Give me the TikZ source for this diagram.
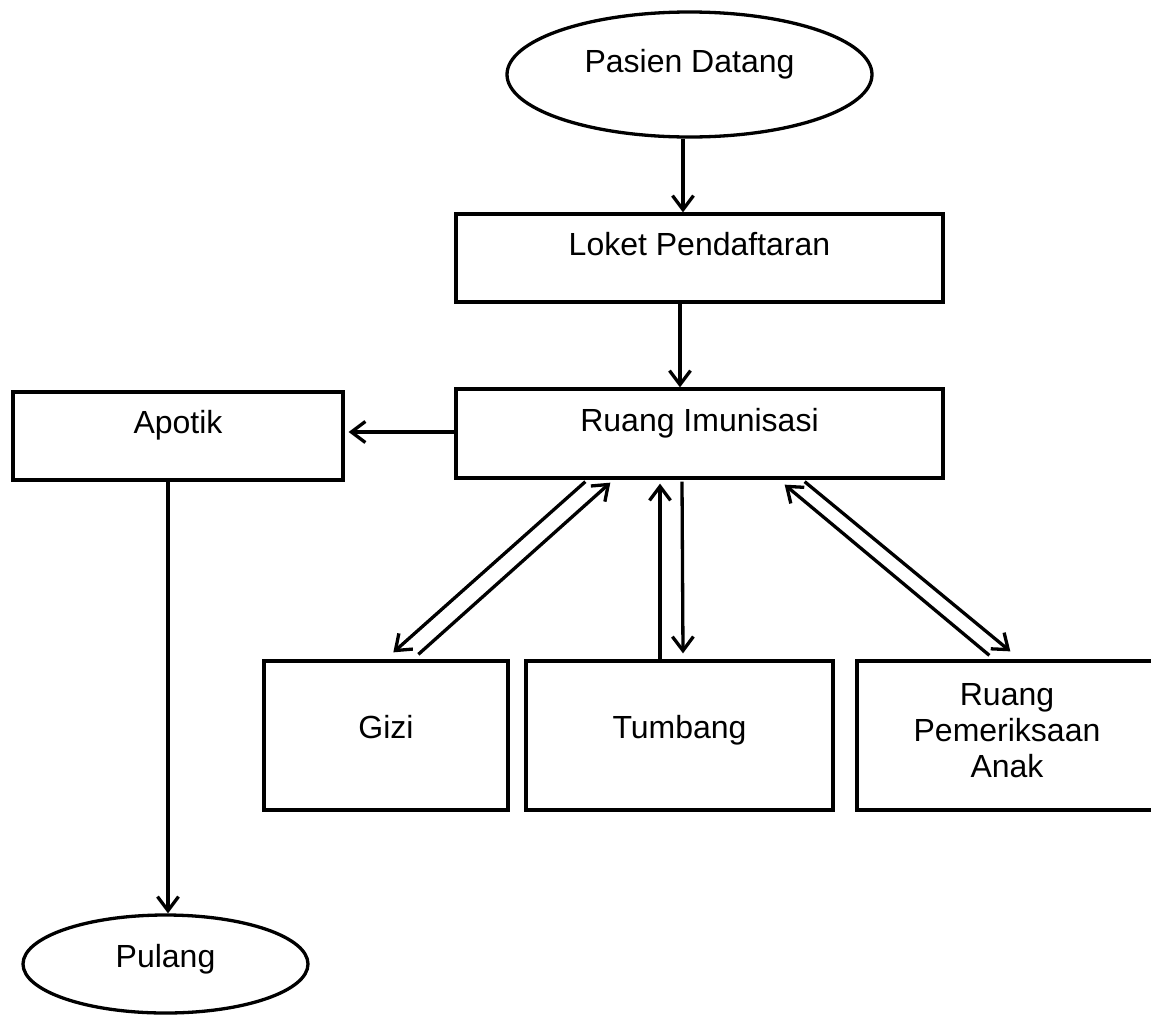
\documentclass[tikz,border=0pt]{standalone}
\usepackage{fontspec}
\setmainfont{Liberation Sans}
\usetikzlibrary{arrows.meta,shapes.geometric}
\newcommand{\rtxt}[2]{\raisebox{#1pt}[0pt][0pt]{#2}}
\tikzset{
  base/.style={draw=black, line width=3.3pt, inner sep=0pt, text height=0pt, text depth=0pt,
    font=\fontsize{32}{36}\selectfont},
  boxnode/.style={base, rectangle},
  ovalnode/.style={base, ellipse},
  conn/.style={line width=3.3pt, -{Straight Barb[length=14pt,width=21pt,line width=3.3pt]}},
}
\begin{document}
\begin{tikzpicture}[x=1pt,y=-1pt]
\clip (0,0) rectangle (1151,1015);
\fill[white] (0,0) rectangle (1151,1015);

\node[ovalnode, minimum width=365pt, minimum height=125pt] (pasien) at (689.5,74.5) {\rtxt{2.5}{Pasien Datang}};
\node[boxnode, minimum width=487pt, minimum height=88pt] (loket) at (699.5,258) {\rtxt{3}{Loket Pendaftaran}};
\node[boxnode, minimum width=487pt, minimum height=89pt] (imun) at (699.5,433.5) {\rtxt{2}{Ruang Imunisasi}};
\node[boxnode, minimum width=330pt, minimum height=88pt] (apotik) at (178,436) {\rtxt{3}{Apotik}};
\node[boxnode, minimum width=244pt, minimum height=149pt] (gizi) at (386,735.5) {\rtxt{-2.5}{Gizi}};
\node[boxnode, minimum width=307pt, minimum height=149pt] (tumbang) at (679.5,735.5) {\rtxt{-2.5}{Tumbang}};
\node[boxnode, minimum width=300pt, minimum height=149pt] (anak) at (1007,735.5)
  {\rtxt{-41.5}{\vbox{\baselineskip=36pt\halign{\hfil#\hfil\cr Ruang\cr Pemeriksaan\cr Anak\cr}}}};
\node[ovalnode, minimum width=285pt, minimum height=98pt] (pulang) at (165.5,964) {\rtxt{-3}{Pulang}};

% main flow
\draw[conn] ([xshift=-6.5pt]pasien.south) -- ([xshift=-16.5pt]loket.north);
\draw[conn] ([xshift=-19.5pt]loket.south) -- ([xshift=-19.5pt]imun.north);
\draw[conn] ([yshift=1.5pt]imun.west) -- ([xshift=4pt,yshift=4pt]apotik.east);
\draw[conn] ([xshift=-10pt]apotik.south) -- ([xshift=2.5pt]pulang.north);

% Gizi pair
\draw[conn] ([xshift=131pt,yshift=-2pt]imun.south west) -- ([xshift=131pt,yshift=7pt]gizi.north west);
\draw[conn] ([xshift=156pt,yshift=5pt]gizi.north west) -- ([xshift=156pt,yshift=-3pt]imun.south west);

% Tumbang pair
\draw[conn] ([xshift=-19.5pt]tumbang.north) -- ([xshift=-39.5pt,yshift=-4pt]imun.south);
\draw[conn] ([xshift=-17.5pt,yshift=-2pt]imun.south) -- ([xshift=3.5pt,yshift=6pt]tumbang.north);

% Anak pair
\draw[conn] ([xshift=-140pt,yshift=-2pt]imun.south east) -- ([xshift=155pt,yshift=8pt]anak.north west);
\draw[conn] ([xshift=134pt,yshift=4pt]anak.north west) -- ([xshift=-160pt,yshift=-5pt]imun.south east);
\end{tikzpicture}
\end{document}
